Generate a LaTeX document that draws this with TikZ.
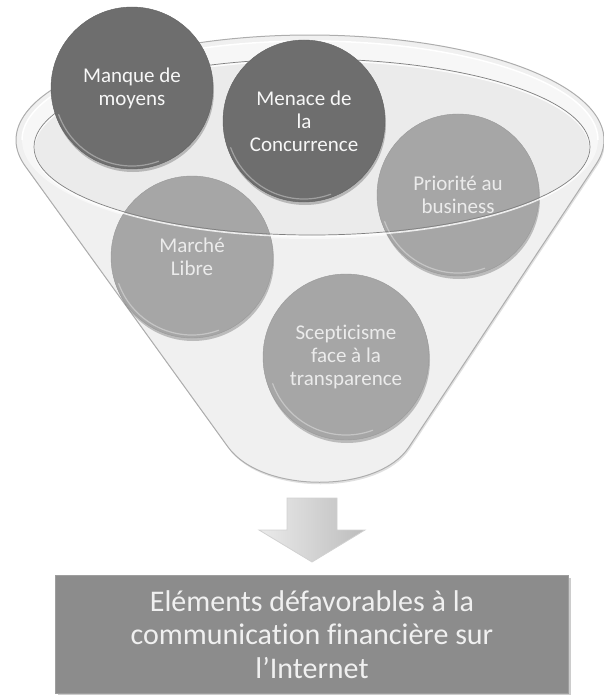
\documentclass[tikz,border=0pt]{standalone}
\usepackage{fontspec}
\setmainfont{Carlito}[Ligatures=NoCommon]
\usetikzlibrary{positioning}
\colorlet{balldk}{black!57}
\colorlet{balllt}{black!35}
\colorlet{boxgr}{black!45}
\colorlet{funbody}{black!6}
\colorlet{funrim}{black!3}
\colorlet{funin}{black!8}
\colorlet{funline}{black!32}
\tikzset{
    ball/.style={circle,inner sep=0pt,minimum size=162pt,align=center,
        font=\fontsize{21}{23}\selectfont,
        preaction={fill=black,opacity=.22,transform canvas={xshift=1pt,yshift=-3pt}}},
    balld/.style={ball,fill=balldk,draw=black!62,text=black!3},
    balll/.style={ball,fill=balllt,draw=black!40,text=black!8},
    gloss/.style={white,opacity=.35,line width=1.2pt,line cap=round},
    funnel/.style={fill=funbody,draw=funline,line width=1pt},
    resbox/.style={rectangle,fill=boxgr,draw=black!38,line width=1pt,minimum width=513pt,
        minimum height=118pt,align=center,text=black!6,font=\fontsize{30}{33.5}\selectfont,
        preaction={fill=black,opacity=.2,transform canvas={xshift=2pt,yshift=-2pt}}},
    blockarr/.style={left color=black!8,right color=black!26,draw=black!18,line width=.8pt}
}
\begin{document}
\begin{tikzpicture}[x=1pt,y=-1pt]
    \useasboundingbox (0,0) rectangle (604,695);
    \path[funnel,preaction={fill=black,opacity=.12,transform canvas={xshift=1pt,yshift=-2pt}}]
        (25.3,166.2) -- (228,447)
        .. controls (262,494) and (378,494) .. (409,447)
        -- (596.2,164) arc[start angle=13.2,end angle=-194.44,x radius=294,y radius=105] -- cycle;
    \fill[funrim] (310,140) ellipse [x radius=288, y radius=99];
    \draw[white,line width=1.5pt] (598,140) arc[start angle=0,end angle=-180,x radius=288,y radius=99];
    \fill[funin] (312,147) ellipse [x radius=278, y radius=88];
    \node[balll] (marche) at (192,257) {Marché\\Libre};
    \node[balll] (priorite) at (458,195) {Priorité au\\business};
    \node[balll,minimum size=166pt] (scepti) at (346,357) {Scepticisme\\face à la\\transparence};
    \draw[white,line width=1.6pt,opacity=.8] (312,148.5) ellipse [x radius=278, y radius=88];
    \draw[black!50,line width=.7pt] (312,147) ellipse [x radius=278, y radius=88];
    \node[balld] (manque) at (132,88) {Manque de\\moyens};
    \node[balld] (menace) at (304,121) {Menace de\\la\\Concurrence};
    \foreach \n in {manque,menace,priorite,marche,scepti} {
        \draw[gloss] (\n.center) ++(200:78pt) arc[start angle=200,end angle=290,radius=78pt];
    }
    \coordinate (tip) at (312,562);
    \draw[blockarr] (tip) -- ++(-53,-32) -- ++(28,0) -- ++(0,-32) -- ++(50,0)
        -- ++(0,32) -- ++(28,0) -- cycle;
    \node[resbox,below=13pt of tip] (result)
        {Eléments défavorables à la\\communication financière sur\\l’Internet};
\end{tikzpicture}
\end{document}
